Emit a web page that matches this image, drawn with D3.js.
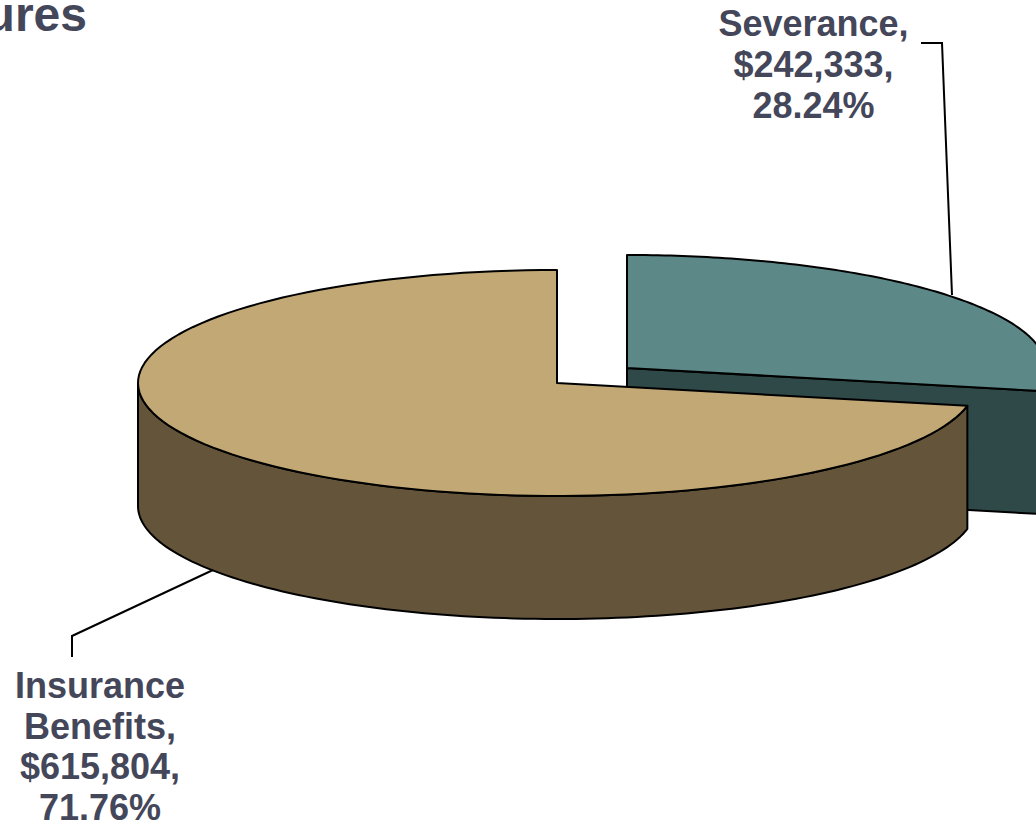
<!DOCTYPE html>
<html><head><meta charset="utf-8">
<script src="https://cdn.jsdelivr.net/npm/d3@7"></script>
<style>html,body{margin:0;padding:0;background:#fff;overflow:hidden}svg{display:block}
text{font-family:"Liberation Sans",Arial,sans-serif;font-weight:700;fill:#44465a;font-size:36px;text-anchor:middle}</style>
</head><body><svg id="c" width="1036" height="824"></svg>
<script>
const categories = ["Severance", "Insurance Benefits"];
const seriesValues = [242333, 615804];
const sliceLabels = [["Severance,", "$242,333,", "28.24%"], ["Insurance", "Benefits,", "$615,804,", "71.76%"]];
const topColors = ["#5d8888", "#c1a875"];
const sideColors = ["#2f4848", "#64553a"];

const W = 1036, H = 824, rx = 419, ry = 113, depth = 123;
const svg = d3.select("#c");
const pie = d3.pie().sort(null).startAngle(0).endAngle(2 * Math.PI);
const arcs = pie(seriesValues);
const centers = [[627, 368], [557, 383]];
const pt = (c, a, d = 0) => [c[0] + rx * Math.sin(a), c[1] - ry * Math.cos(a) + d];
const line = d3.line();
const samples = (a0, a1) => d3.range(0, 121).map(i => a0 + (a1 - a0) * i / 120);
const stroke = { stroke: "#000", "stroke-width": 2, "stroke-linejoin": "round" };
function styled(sel, fill) {
  sel.attr("fill", fill);
  Object.entries(stroke).forEach(([k, v]) => sel.attr(k, v));
  return sel;
}
function topPath(c, d) {
  return line([c, ...samples(d.startAngle, d.endAngle).map(a => pt(c, a))]) + "Z";
}
function radialWall(c, a) {
  const p = pt(c, a);
  return line([c, p, [p[0], p[1] + depth], [c[0], c[1] + depth]]) + "Z";
}
function rimWall(c, a0, a1) {
  const s = samples(a0, a1);
  return line([...s.map(a => pt(c, a)), ...s.slice().reverse().map(a => pt(c, a, depth))]) + "Z";
}

// Severance slice (behind, pulled out)
const c0 = centers[0], d0 = arcs[0];
styled(svg.append("path").attr("d", radialWall(c0, d0.endAngle)), sideColors[0]);
styled(svg.append("path").attr("d", topPath(c0, d0)), topColors[0]);

// Insurance Benefits slice
const c1 = centers[1], d1 = arcs[1];
styled(svg.append("path").attr("d", rimWall(c1, d1.startAngle, 1.5 * Math.PI)), sideColors[1]);
styled(svg.append("path").attr("d", topPath(c1, d1)), topColors[1]);

// Leader lines
const leaders = [[[921, 43], [942, 43], [952, 295]], [[213, 570], [72, 636], [72, 657]]];
svg.selectAll("path.leader").data(leaders).join("path").attr("class", "leader")
  .attr("d", line).attr("fill", "none").attr("stroke", "#000").attr("stroke-width", 2);

// Labels
const labelPos = [[813.5, 36, 41], [100, 698, 40.7]];
sliceLabels.forEach((ls, i) => {
  const t = svg.append("text");
  ls.forEach((s, j) => t.append("tspan").attr("x", labelPos[i][0]).attr("y", labelPos[i][1] + j * labelPos[i][2]).text(s));
});
// Clipped chart title fragment
svg.append("text").attr("x", 87).attr("y", 31).style("text-anchor", "end").style("font-size", "48px").text("ures");
</script></body></html>
